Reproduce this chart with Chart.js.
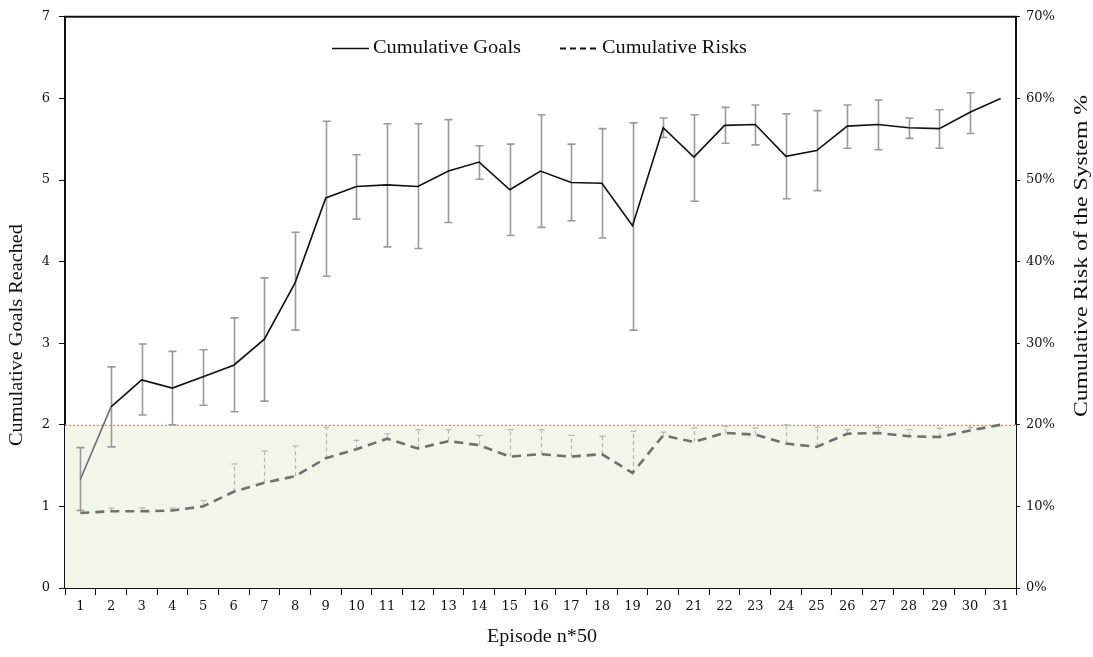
<!DOCTYPE html>
<html>
<head>
<meta charset="utf-8">
<title>Cumulative Goals and Risks per Episode</title>
<script src="https://cdn.jsdelivr.net/npm/chart.js@4.4.1/dist/chart.umd.min.js"></script>
<style>
  html, body { margin: 0; padding: 0; background: #ffffff; }
  #wrap { position: relative; width: 1093px; height: 657px; }
</style>
</head>
<body>
<div id="wrap"><canvas id="chart"></canvas></div>
<script>
// Episode blocks (each block = 50 episodes)
const episodes = ['1','2','3','4','5','6','7','8','9','10','11','12','13','14','15','16',
                  '17','18','19','20','21','22','23','24','25','26','27','28','29','30','31'];

// Mean cumulative goals reached per block
const goals = [1.33, 2.22, 2.55, 2.45, 2.59, 2.73, 3.05, 3.74, 4.78, 4.92, 4.94, 4.92, 5.11, 5.22, 4.88, 5.11,
               4.97, 4.96, 4.44, 5.64, 5.28, 5.67, 5.68, 5.29, 5.36, 5.66, 5.68, 5.64, 5.63, 5.83, 6.00];
// Error bar extent for goals (upper / lower)
const goalsUpper = [1.72, 2.71, 2.99, 2.90, 2.92, 3.31, 3.80, 4.36, 5.72, 5.31, 5.69, 5.69, 5.74, 5.42, 5.44, 5.80,
                    5.44, 5.63, 5.70, 5.76, 5.80, 5.89, 5.92, 5.81, 5.85, 5.92, 5.98, 5.76, 5.86, 6.07, null];
const goalsLower = [0.95, 1.73, 2.12, 2.00, 2.24, 2.16, 2.29, 3.16, 3.82, 4.52, 4.18, 4.16, 4.48, 5.01, 4.32, 4.42,
                    4.50, 4.29, 3.16, 5.52, 4.74, 5.45, 5.43, 4.77, 4.87, 5.39, 5.37, 5.51, 5.39, 5.57, null];

// Mean cumulative risk of the system (%) per block
const risks = [9.2, 9.4, 9.4, 9.5, 10.0, 11.8, 12.9, 13.7, 15.9, 17.0, 18.3, 17.1, 18.0, 17.5, 16.1, 16.4,
               16.1, 16.4, 14.1, 18.7, 17.9, 19.0, 18.8, 17.7, 17.3, 18.9, 19.0, 18.6, 18.5, 19.3, 20.0];
// Upper error bar for risks (%)
const risksUpper = [9.5, 9.8, 9.8, 9.8, 10.7, 15.2, 16.8, 17.4, 19.7, 18.1, 18.9, 19.4, 19.4, 18.7, 19.4, 19.4,
                    18.7, 18.6, 19.2, 19.1, 19.6, 19.8, 19.6, 20.0, 19.7, 19.4, 19.7, 19.4, 19.6, 19.7, null];

// Left and right axis ticks
const goalTicks = [0, 1, 2, 3, 4, 5, 6, 7];
const riskTicks = [0, 10, 20, 30, 40, 50, 60, 70];
// Safety threshold: 2 goals on the left axis = 20 % risk on the right axis
const safeLimit = 2;

const SERIF = '"Liberation Serif", "DejaVu Serif", serif';
const TICK_SERIF = '"DejaVu Serif", "Liberation Serif", serif';

// Draws text stretched horizontally to a given width (the serif face is narrower than the book face)
function drawFitted(ctx, text, x, y, width, px, align) {
  ctx.save();
  ctx.font = px + 'px ' + SERIF;
  const w = ctx.measureText(text).width;
  const k = width / w;
  ctx.translate(x, y);
  ctx.scale(k, 1);
  ctx.textAlign = align || 'center';
  ctx.textBaseline = 'middle';
  ctx.fillText(text, 0, 0);
  ctx.restore();
}

// Green safe zone and dotted red threshold line
const safeZone = {
  id: 'safeZone',
  beforeDatasetsDraw(chart) {
    const { ctx, chartArea: a, scales: { y } } = chart;
    const yTop = y.getPixelForValue(safeLimit);
    const yBot = y.getPixelForValue(0);
    ctx.save();
    ctx.fillStyle = '#f0f6ea';
    ctx.fillRect(a.left, yTop, a.right - a.left, yBot - yTop);
    ctx.strokeStyle = '#e06a60';
    ctx.lineWidth = 1;
    ctx.setLineDash([2, 2]);
    ctx.beginPath();
    ctx.moveTo(a.left, yTop + 0.5);
    ctx.lineTo(a.right, yTop + 0.5);
    ctx.stroke();
    ctx.restore();
  }
};

// Error bars for both series
const errorBars = {
  id: 'errorBars',
  beforeDatasetsDraw(chart) {
    const { ctx, scales: { x, y, y1 } } = chart;
    ctx.save();
    // risk bars: dashed, upward only
    episodes.forEach((c, i) => {
      if (risksUpper[i] == null) return;
      const px = Math.round(x.getPixelForValue(i)) + 0.5;
      const p0 = y1.getPixelForValue(risks[i]);
      const p1 = y1.getPixelForValue(risksUpper[i]);
      ctx.strokeStyle = '#b4b8b0';
      ctx.lineWidth = 1.2;
      ctx.setLineDash([4, 3]);
      ctx.beginPath(); ctx.moveTo(px, p0); ctx.lineTo(px, p1); ctx.stroke();
      ctx.setLineDash([]);
      ctx.beginPath(); ctx.moveTo(px - 3, p1); ctx.lineTo(px + 3, p1); ctx.stroke();
    });
    // goal bars: solid grey with caps
    ctx.strokeStyle = '#9a9a9a';
    ctx.lineWidth = 1.6;
    ctx.setLineDash([]);
    episodes.forEach((c, i) => {
      if (goalsUpper[i] == null) return;
      const px = Math.round(x.getPixelForValue(i)) + 0.5;
      const pu = y.getPixelForValue(goalsUpper[i]);
      const pl = y.getPixelForValue(goalsLower[i]);
      ctx.beginPath();
      ctx.moveTo(px, pu); ctx.lineTo(px, pl);
      ctx.moveTo(px - 4, pu); ctx.lineTo(px + 4, pu);
      ctx.moveTo(px - 4, pl); ctx.lineTo(px + 4, pl);
      ctx.stroke();
    });
    ctx.restore();
  }
};

// Frame top edge, legend and axis titles
const labels = {
  id: 'labels',
  afterDraw(chart) {
    const { ctx, chartArea: a } = chart;
    ctx.save();
    ctx.strokeStyle = '#111';
    ctx.lineWidth = 2;
    ctx.beginPath(); ctx.moveTo(a.left - 1, a.top); ctx.lineTo(a.right + 1, a.top); ctx.stroke();
    ctx.fillStyle = '#111';
    // legend
    ctx.lineWidth = 1.5;
    ctx.beginPath(); ctx.moveTo(332, 48.5); ctx.lineTo(369, 48.5); ctx.stroke();
    ctx.lineWidth = 2;
    ctx.setLineDash([6, 4]);
    ctx.beginPath(); ctx.moveTo(560, 48.5); ctx.lineTo(597, 48.5); ctx.stroke();
    ctx.setLineDash([]);
    drawFitted(ctx, 'Cumulative Goals', 373, 48, 148, 18, 'left');
    drawFitted(ctx, 'Cumulative Risks', 602, 48, 145, 18, 'left');
    // x title
    drawFitted(ctx, 'Episode n*50', 542, 637, 110, 18, 'center');
    // left title
    ctx.save();
    ctx.translate(17, 335);
    ctx.rotate(-Math.PI / 2);
    drawFitted(ctx, 'Cumulative Goals Reached', 0, 0, 222, 18, 'center');
    ctx.restore();
    // right title
    ctx.save();
    ctx.translate(1082, 256);
    ctx.rotate(-Math.PI / 2);
    drawFitted(ctx, 'Cumulative Risk of the System %', 0, 0, 322, 19, 'center');
    ctx.restore();
    ctx.restore();
  }
};

const tickFont = { family: TICK_SERIF, size: 13 };

new Chart(document.getElementById('chart'), {
  type: 'line',
  data: {
    labels: episodes,
    datasets: [
      {
        label: 'Cumulative Goals',
        data: goals,
        yAxisID: 'y',
        borderColor: '#111111',
        borderWidth: 1.6,
        pointRadius: 0,
        tension: 0,
        segment: {
          borderColor: ctx => ctx.p0DataIndex === 0 ? '#6f6f6f' : undefined
        }
      },
      {
        label: 'Cumulative Risks',
        data: risks,
        yAxisID: 'y1',
        borderColor: '#6e726c',
        borderWidth: 2.6,
        borderDash: [9, 6],
        pointRadius: 0,
        tension: 0
      }
    ]
  },
  options: {
    responsive: true,
    maintainAspectRatio: false,
    animation: false,
    layout: { padding: { top: 11, left: 0, right: 0, bottom: 0 } },
    plugins: {
      legend: { display: false },
      tooltip: { enabled: false }
    },
    scales: {
      x: {
        offset: true,
        grid: { display: true, drawOnChartArea: false, drawTicks: true, tickLength: 7, color: '#111', offset: true },
        border: { display: true, color: '#111', width: 2 },
        ticks: { color: '#111', font: tickFont, padding: 4, maxRotation: 0, autoSkip: false },
        afterFit(s) { s.height = 69; }
      },
      y: {
        position: 'left',
        min: 0, max: 7,
        afterBuildTicks(s) { s.ticks = goalTicks.map(v => ({ value: v })); },
        grid: { drawOnChartArea: false, drawTicks: true, tickLength: 6, color: '#111' },
        border: { display: true, color: '#111', width: 2 },
        ticks: { color: '#111', font: tickFont, padding: 9 },
        afterFit(s) { s.width = 65; }
      },
      y1: {
        position: 'right',
        min: 0, max: 70,
        afterBuildTicks(s) { s.ticks = riskTicks.map(v => ({ value: v })); },
        grid: { drawOnChartArea: false, drawTicks: true, tickLength: 4, color: '#111' },
        border: { display: true, color: '#111', width: 2 },
        ticks: { color: '#111', font: tickFont, padding: 6, callback: v => v + '%' },
        afterFit(s) { s.width = 77; }
      }
    }
  },
  plugins: [safeZone, errorBars, labels]
});
</script>
</body>
</html>
